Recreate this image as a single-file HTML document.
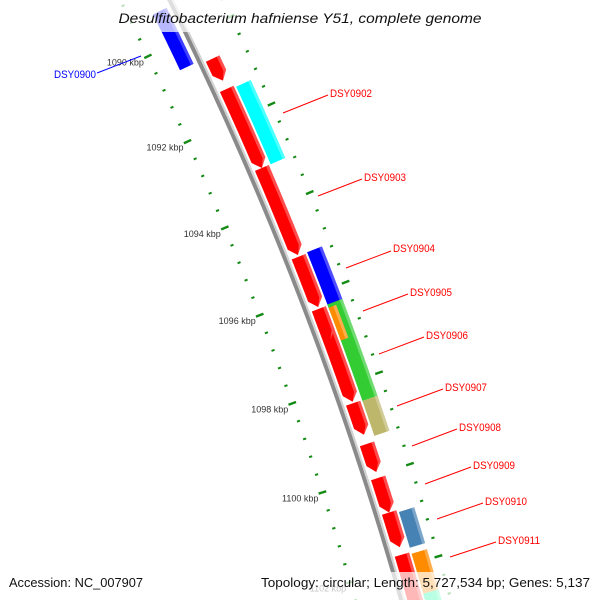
<!DOCTYPE html>
<html><head><meta charset="utf-8"><style>
html,body{margin:0;padding:0;background:#fff;width:600px;height:600px;overflow:hidden;}
svg{display:block;overflow:hidden;font-family:"Liberation Sans","DejaVu Sans",sans-serif;}
</style></head><body>
<svg id="map" width="600" height="600" viewBox="0 0 600 600" xmlns="http://www.w3.org/2000/svg">
<rect width="600" height="600" fill="#fff"/>
<g id="ticks"></g>
<g id="backbone"></g>
<g id="features"></g>
<g id="labels"></g>
<rect x="108" y="0" width="384" height="32" fill="#fff" opacity="0.72"/>
<text x="300" y="23" text-anchor="middle" font-style="italic" font-size="14" fill="#111" textLength="363" lengthAdjust="spacingAndGlyphs">Desulfitobacterium hafniense Y51, complete genome</text>
<rect x="0" y="572" width="600" height="28" fill="#fff" opacity="0.72"/>
<text x="9" y="587" font-size="13" fill="#111" textLength="134" lengthAdjust="spacingAndGlyphs">Accession: NC_007907</text>
<text x="590" y="587" text-anchor="end" font-size="13" fill="#111" textLength="329" lengthAdjust="spacingAndGlyphs">Topology: circular; Length: 5,727,534 bp; Genes: 5,137</text>
</svg>
<script>
// ---- data (kbp) ----
const redGeneStarts = [1090.63, 1091.33, 1093.14, 1095.15, 1096.45, 1096.32, 1098.42, 1099.32, 1100.07, 1100.83, 1101.75];
const redGeneEnds   = [1091.14, 1093.14, 1095.11, 1096.28, 1098.39, 1097.01, 1099.12, 1099.94, 1100.83, 1101.59, 1103.20];
const outerStarts = [1091.37, 1095.13, 1096.30, 1096.37, 1098.44, 1100.88, 1101.79, 1102.66];
const outerEnds   = [1093.14, 1096.37, 1098.44, 1097.10, 1099.21, 1101.66, 1102.66, 1103.50];
const outerColors = ['#00ffff', '#0000ff', '#33cc33', '#ff8c00', '#bdb76b', '#4682b4', '#ff8c00', '#00ff99'];
const outerHalf   = [false, false, false, true, false, false, false, false];
const reverseStarts = [1089.25];
const reverseEnds   = [1090.56];
const reverseColors = ['#0000ff'];
const tickStart = 1088.0, tickEnd = 1104.0, minorStep = 0.4, majorStep = 2;
const tickLabels = ['1088 kbp','1090 kbp','1092 kbp','1094 kbp','1096 kbp','1098 kbp','1100 kbp','1102 kbp','1104 kbp'];
const labelNames = ['DSY0900','DSY0902','DSY0903','DSY0904','DSY0905','DSY0906','DSY0907','DSY0908','DSY0909','DSY0910','DSY0911'];
const labelColors = ['#0000ff','#ff0000','#ff0000','#ff0000','#ff0000','#ff0000','#ff0000','#ff0000','#ff0000','#ff0000','#ff0000'];

// ---- geometry ----
const CX = -2980, CY = 1561, R = 3516, A0 = -25.69, DEG_PER_KBP = 0.776;
function ang(p){ return (A0 + (p - 1090) * DEG_PER_KBP) * Math.PI / 180; }
function pt(p, r){ const a = ang(p); return [CX + (R + r) * Math.cos(a), CY + (R + r) * Math.sin(a)]; }
function arcPts(p1, p2, r, n){ const out=[]; for(let i=0;i<=n;i++){ out.push(pt(p1+(p2-p1)*i/n, r)); } return out; }
function ps(arr){ return arr.map(q=>q[0].toFixed(2)+','+q[1].toFixed(2)).join(' '); }
const NS='http://www.w3.org/2000/svg';
function mk(tag, parent, attrs){ const e=document.createElementNS(NS,tag); for(const k in attrs) e.setAttribute(k,attrs[k]); parent.appendChild(e); return e; }

// backbone
const bb = document.getElementById('backbone');
const b1 = mk('polyline', bb, {points: ps(arcPts(1087, 1104, -1, 80)), fill:'none', stroke:'#8a8a8a', 'stroke-width':4});


const b2 = mk('polyline', bb, {points: ps(arcPts(1087, 1104, 2, 80)), fill:'none', stroke:'#d2d2d2', 'stroke-width':2});



// ticks
const tg = document.getElementById('ticks');
const nTicks = Math.round((tickEnd - tickStart) / minorStep);
for (let i = 0; i <= nTicks; i++) {
  const p = tickStart + i * minorStep;
  const major = Math.abs(((p - tickStart) / majorStep) - Math.round((p - tickStart) / majorStep)) < 1e-6;
  const half = major ? 4 : 1.6;
  [-45, 47].forEach(r => {
    const a = pt(p, r - half), b = pt(p, r + half);
    if (a[1] > 610 && b[1] > 610) return;
    const l = mk('line', tg, {x1:a[0], y1:a[1], x2:b[0], y2:b[1], stroke:'#138a13', 'stroke-width': major ? 2.4 : 2});
    
    
  });
  if (major) {
    const k = Math.round((p - tickStart) / majorStep);
    const q = pt(p, -45);
    if (q[1] > 600) continue;
    const t = mk('text', tg, {x: q[0] - 4, y: q[1] + 9, 'text-anchor':'end', 'font-size':9, fill:'#333'});
    t.textContent = tickLabels[k];
    
    
  }
}

// features
const fg = document.getElementById('features');
for (let i = 0; i < reverseStarts.length; i++) {
  const o = arcPts(reverseStarts[i], reverseEnds[i], -7, 20), inn = arcPts(reverseEnds[i], reverseStarts[i], -22, 20);
  const e = mk('polygon', fg, {points: ps(o.concat(inn)), fill: reverseColors[i]});
  
  
  const s = arcPts(reverseStarts[i], reverseEnds[i], -7, 20), s2 = arcPts(reverseEnds[i], reverseStarts[i], -10, 20);
  const h = mk('polygon', fg, {points: ps(s.concat(s2)), fill:'#fff', opacity:0.25});
  
  
}
for (let i = 0; i < outerStarts.length; i++) {
  const r1 = 22, r2 = outerHalf[i] ? 30 : 38;
  const o = arcPts(outerStarts[i], outerEnds[i], r2, 20), inn = arcPts(outerEnds[i], outerStarts[i], r1, 20);
  const e = mk('polygon', fg, {points: ps(o.concat(inn)), fill: outerColors[i]});
  
  
  const s = arcPts(outerStarts[i], outerEnds[i], r2, 20), s2 = arcPts(outerEnds[i], outerStarts[i], r2 - 3, 20);
  const h = mk('polygon', fg, {points: ps(s.concat(s2)), fill:'#fff', opacity:0.3});
  
  
}
const HEAD = 0.18;
for (let i = 0; i < redGeneStarts.length; i++) {
  const s = redGeneStarts[i], en = redGeneEnds[i];
  const hs = Math.max(s, en - HEAD);
  const outer = arcPts(s, hs, 20, 16), tip = [pt(en, 12.5)], inner = arcPts(hs, s, 5, 16);
  const e = mk('polygon', fg, {points: ps(outer.concat(tip, inner)), fill:'#ff0000'});
  
  
  const h1 = arcPts(s, hs, 20, 16), h2 = [pt(en, 12.5)], h3 = arcPts(hs, s, 17, 16);
  const h = mk('polygon', fg, {points: ps(h1.concat(h2, h3)), fill:'#fff', opacity:0.3});
  
  
}

// labels
const lg = document.getElementById('labels');
const labelPos = [[54,78,97,73,141,56],[330,97,283,113,328,95],[364,181,318,196,362,179],[393,252,346,268,391,251],[410,296,363,311,408,294],[426,339,379,354,424,337],[445,391,397,406,443,389],[459,431,412,446,457,429],[473,469,425,484,471,467],[485,505,437,519,483,503],[498,544,450,557,496,542]];
for (let i = 0; i < labelNames.length; i++) {
  const L = labelPos[i];
  const ln = mk('line', lg, {x1:L[2], y1:L[3], x2:L[4], y2:L[5], stroke: labelColors[i], 'stroke-width':1});
  
  
  const t = mk('text', lg, {x:L[0], y:L[1], 'font-size':11, fill: labelColors[i], textLength:42, lengthAdjust:'spacingAndGlyphs'});
  t.textContent = labelNames[i];
  
  
}
</script>
</body></html>
